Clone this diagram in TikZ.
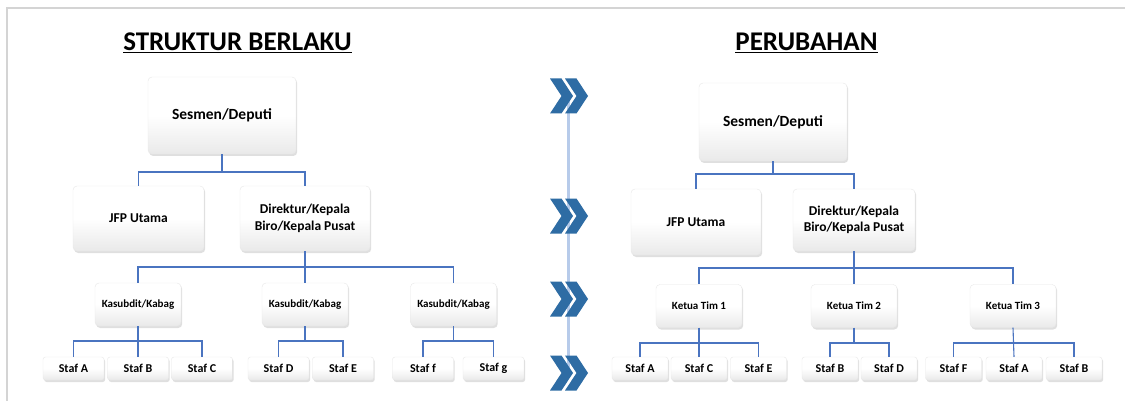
\documentclass[tikz,border=0pt]{standalone}
\usepackage{fontspec}
\setmainfont{Carlito}
\usetikzlibrary{shadows}
\definecolor{conn}{HTML}{4A74C0}
\definecolor{chev}{HTML}{2E6CA4}
\definecolor{vline}{HTML}{B7CBEA}
\definecolor{frame}{HTML}{D4D4D4}
\begin{document}
\begin{tikzpicture}[x=1pt,y=-1pt,
  box/.style={rounded corners=4pt, draw=gray!18, line width=0.4pt,
    top color=white, bottom color=gray!17, middle color=white,
    drop shadow={shadow xshift=1.2pt, shadow yshift=-2pt, opacity=0.35, fill=gray!70},
    font=\bfseries, align=center, inner sep=1pt},
  topbox/.style={box, font=\fontsize{15.5}{18.5}\selectfont\bfseries},
  bigbox/.style={box, font=\fontsize{13.5}{16.5}\selectfont\bfseries},
  midbox/.style={box, font=\fontsize{11}{13}\selectfont\bfseries, minimum width=86, minimum height=43},
  stafbox/.style={box, rounded corners=2.5pt, font=\fontsize{12}{13}\selectfont\bfseries, minimum height=23},
  link/.style={draw=conn, line width=1.1pt},
  ttl/.style={font=\fontsize{27}{31}\selectfont\bfseries}]
\useasboundingbox (0,0) rectangle (1125,401);
\fill[white] (0,0) rectangle (1125,401);
% frame
\draw[frame, line width=2pt] (6.5,401) -- (6.5,8.5) -- (1125,8.5);
% titles
\node[ttl] (t1) at (237.5,43) {\underline{STRUKTUR BERLAKU}};
\node[ttl] (t2) at (806.5,43) {\underline{PERUBAHAN}};
% middle line and chevrons
\draw[vline, line width=3pt] (568,96) -- (568,373);
\foreach \cy in {96,216,299,373}{
  \foreach \ox in {550,565}{
    \fill[chev] (\ox,\cy-17.5) -- (\ox+11.5,\cy-17.5) -- (\ox+23,\cy) -- (\ox+11.5,\cy+17.5) -- (\ox,\cy+17.5) -- (\ox+11.5,\cy) -- cycle;
  }
}
% ---------- LEFT ----------
\node[topbox, minimum width=148, minimum height=77] (s1) at (222,115.5) {Sesmen/Deputi};
\node[bigbox, minimum width=131, minimum height=65] (j1) at (138.5,218.5) {JFP Utama};
\node[bigbox, minimum width=130, minimum height=65] (d1) at (305,218.5) {Direktur/Kepala\\Biro/Kepala Pusat};
\node[midbox] (k1) at (138,304.5) {Kasubdit/Kabag};
\node[midbox] (k2) at (305,304.5) {Kasubdit/Kabag};
\node[midbox] (k3) at (453.5,304.5) {Kasubdit/Kabag};
\node[stafbox, minimum width=61] (la) at (73.5,368.5) {Staf A};
\node[stafbox, minimum width=61] (lb) at (138,368.5) {Staf B};
\node[stafbox, minimum width=61] (lc) at (202,368.5) {Staf C};
\node[stafbox, minimum width=61] (ld) at (278.5,368.5) {Staf D};
\node[stafbox, minimum width=61] (le) at (343,368.5) {Staf E};
\node[stafbox, minimum width=61] (lf) at (423,368.5) {Staf f};
\node[stafbox, minimum width=61] (lg) at (493.5,368.5) {Staf g};
\draw[link] (s1.south) -- (s1.south |- 0,172) -| (j1.north);
\draw[link] (s1.south |- 0,172) -| (d1.north);
\draw[link] (d1.south) -- (d1.south |- 0,267) -| (k1.north);
\draw[link] (d1.south |- 0,267) -- (k2.north);
\draw[link] (d1.south |- 0,267) -| (k3.north);
\draw[link] (k1.south) -- (lb.north);
\draw[link] (k1.south |- 0,341) -| (la.north);
\draw[link] (k1.south |- 0,341) -| (lc.north);
\draw[link] (k2.south) -- (k2.south |- 0,341);
\draw[link] (k2.south |- 0,341) -| (ld.north);
\draw[link] (k2.south |- 0,341) -| (le.north);
\draw[link] (k3.south) -- (k3.south |- 0,341);
\draw[link] (k3.south |- 0,341) -| (lf.north);
\draw[link] (k3.south |- 0,341) -| (lg.north);
% ---------- RIGHT ----------
\node[topbox, minimum width=148, minimum height=78] (s2) at (773,122) {Sesmen/Deputi};
\node[bigbox, minimum width=130, minimum height=66] (j2) at (696,222) {JFP Utama};
\node[bigbox, minimum width=122, minimum height=62] (d2) at (854,220) {Direktur/Kepala\\Biro/Kepala Pusat};
\node[midbox] (m1) at (699,306) {Ketua Tim 1};
\node[midbox] (m2) at (854,306) {Ketua Tim 2};
\node[midbox] (m3) at (1013,306) {Ketua Tim 3};
\node[stafbox, minimum width=56] (ra) at (640,368.5) {Staf A};
\node[stafbox, minimum width=56] (rc) at (699,368.5) {Staf C};
\node[stafbox, minimum width=56] (re) at (758.5,368.5) {Staf E};
\node[stafbox, minimum width=56] (rb) at (830,368.5) {Staf B};
\node[stafbox, minimum width=56] (rd) at (889,368.5) {Staf D};
\node[stafbox, minimum width=56] (rf) at (953.5,368.5) {Staf F};
\node[stafbox, minimum width=56] (ra2) at (1014,368.5) {Staf A};
\node[stafbox, minimum width=56] (rb2) at (1074,368.5) {Staf B};
\draw[link] (s2.south) -- (s2.south |- 0,174) -| (j2.north);
\draw[link] (s2.south |- 0,174) -| (d2.north);
\draw[link] (d2.south) -- (d2.south |- 0,268) -| (m1.north);
\draw[link] (d2.south |- 0,268) -- (m2.north);
\draw[link] (d2.south |- 0,268) -| (m3.north);
\draw[link] (m1.south) -- (rc.north);
\draw[link] (m1.south |- 0,343) -| (ra.north);
\draw[link] (m1.south |- 0,343) -| (re.north);
\draw[link] (m2.south) -- (m2.south |- 0,343);
\draw[link] (m2.south |- 0,343) -| (rb.north);
\draw[link] (m2.south |- 0,343) -| (rd.north);
\draw[link] (m3.south) -- (ra2.north);
\draw[link] (m3.south |- 0,343) -| (rf.north);
\draw[link] (m3.south |- 0,343) -| (rb2.north);
\end{tikzpicture}
\end{document}
